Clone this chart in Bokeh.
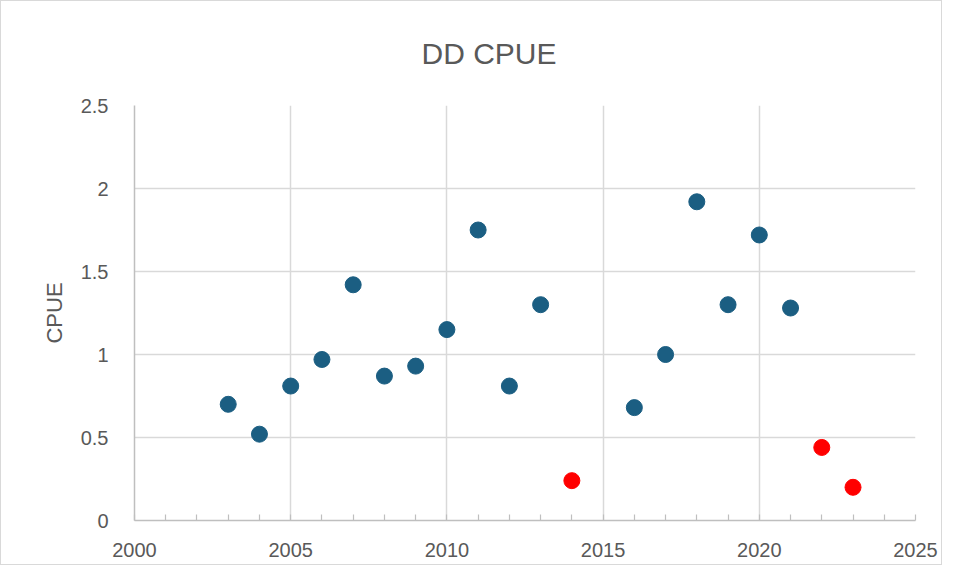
from bokeh.plotting import figure
from bokeh.models import FixedTicker, NumeralTickFormatter, Range1d, ColumnDataSource
from bokeh.embed import file_html
from bokeh.resources import INLINE

# Data
years_main = [2003, 2004, 2005, 2006, 2007, 2008, 2009, 2010, 2011, 2012, 2013,
              2016, 2017, 2018, 2019, 2020, 2021]
cpue_main = [0.70, 0.52, 0.81, 0.97, 1.42, 0.87, 0.93, 1.15, 1.75, 0.81, 1.30,
             0.68, 1.00, 1.92, 1.30, 1.72, 1.28]
years_flag = [2014, 2022, 2023]
cpue_flag = [0.24, 0.44, 0.20]

x_ticks = [2000, 2005, 2010, 2015, 2020, 2025]
x_minor = list(range(2000, 2026))
y_ticks = [0, 0.5, 1, 1.5, 2, 2.5]

FONT = "Liberation Sans"
TXT = "#595959"
GRID = "#D9D9D9"

p = figure(width=942, height=565, output_backend="svg", toolbar_location=None,
           x_range=Range1d(2000, 2025), y_range=Range1d(0, 2.5),
           title="DD CPUE")
p.min_border_left = 133
p.min_border_right = 28
p.min_border_top = 104
p.min_border_bottom = 46
p.styles = {"border": "1px solid #D9D9D9"}

p.title.align = "left"
p.title.offset = 287
p.title.vertical_align = "top"
p.title.text_font = FONT
p.title.text_font_size = "30px"
p.title.text_font_style = "normal"
p.title.text_color = TXT
p.title.standoff = 68

p.outline_line_color = None
p.background_fill_color = "white"
p.border_fill_color = "white"

# x axis
p.xaxis.ticker = FixedTicker(ticks=x_ticks, minor_ticks=x_minor)
p.xaxis.axis_line_color = "#BFBFBF"
p.xaxis.axis_line_width = 1.5
p.xaxis.major_tick_line_color = None
p.xaxis.minor_tick_line_color = "#BFBFBF"
p.xaxis.minor_tick_line_width = 1.2
p.xaxis.minor_tick_in = 6
p.xaxis.minor_tick_out = 0
p.xaxis.major_label_standoff = 16
p.xaxis.major_label_text_font = FONT
p.xaxis.major_label_text_font_size = "20px"
p.xaxis.major_label_text_color = TXT

# y axis
p.yaxis.ticker = FixedTicker(ticks=y_ticks)
p.yaxis.formatter = NumeralTickFormatter(format="0.[0]")
p.yaxis.axis_line_color = "#BFBFBF"
p.yaxis.axis_line_width = 1.5
p.yaxis.major_tick_line_color = None
p.yaxis.minor_tick_line_color = None
p.yaxis.major_label_standoff = 20
p.yaxis.major_label_text_font = FONT
p.yaxis.major_label_text_font_size = "20px"
p.yaxis.major_label_text_color = TXT
p.yaxis.axis_label = "CPUE"
p.yaxis.axis_label_text_font = FONT
p.yaxis.axis_label_text_font_size = "22px"
p.yaxis.axis_label_text_font_style = "normal"
p.yaxis.axis_label_text_color = TXT
p.yaxis.axis_label_standoff = 11

p.xgrid.ticker = FixedTicker(ticks=x_ticks)
p.ygrid.ticker = FixedTicker(ticks=y_ticks)
p.xgrid.grid_line_color = GRID
p.ygrid.grid_line_color = GRID
p.xgrid.grid_line_width = 1.5
p.ygrid.grid_line_width = 1.5

src_main = ColumnDataSource(data=dict(x=years_main, y=cpue_main))
src_flag = ColumnDataSource(data=dict(x=years_flag, y=cpue_flag))
p.scatter("x", "y", source=src_main, size=16, fill_color="#1B5E82", line_color="#1B5E82")
p.scatter("x", "y", source=src_flag, size=16, fill_color="#FF0000", line_color="#FF0000")

open("out.html", "w").write(file_html(p, INLINE))
